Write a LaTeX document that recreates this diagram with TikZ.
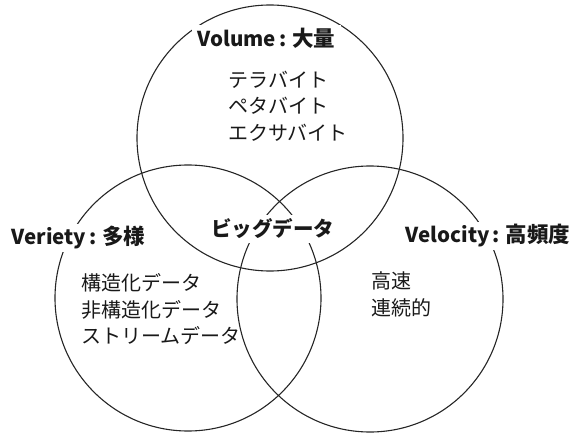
\documentclass[tikz,border=0pt]{standalone}
\usepackage{fontspec}
\newfontfamily\jp{Noto Sans CJK JP}
\newcommand{\lat}[1]{{\fontsize{20.5}{24}\selectfont #1}}
\newcommand{\cjkbig}[1]{{\fontsize{21.5}{24}\selectfont #1}}
\newcommand{\lsep}{\hspace{3pt}\lat{:}\hspace{6pt}}
\tikzset{
  vcircle/.style={circle, draw=black!85, line width=1.1pt, minimum size=266pt, inner sep=0pt},
  vlabel/.style={fill=white, inner xsep=6pt, inner ysep=3pt, font=\jp\bfseries\fontsize{20.5}{24}\selectfont, text=black!90},
  vbody/.style={inner sep=0pt, anchor=west, align=left, font=\jp\fontsize{20}{26.5}\selectfont, text=black!90},
  vcenter/.style={fill=white, inner xsep=3pt, inner ysep=4pt, font=\jp\bfseries\fontsize{20.5}{22}\selectfont, text=black!90}
}
\begin{document}
\begin{tikzpicture}[x=1pt, y=-1pt]
\useasboundingbox (0,0) rectangle (575,433);
\node[vcircle] (vol) at (270,138) {};
\node[vcircle] (ver) at (188,298) {};
\node[vcircle] (vel) at (370,299) {};
\node[vlabel] (volL) at (266.5,38) {\lat{Volume}\lsep\cjkbig{大量}};
\node[vlabel] (verL) at (78.5,238) {\lat{Veriety}\lsep\cjkbig{多様}};
\node[vlabel] (velL) at (488,236) {\lat{Velocity}\lsep\cjkbig{高頻度}};
\node[vcenter] (big) at (272.5,229) {ビッグデータ};
\node[vbody] (volB) at (228,106) {テラバイト\\ペタバイト\\エクサバイト};
\node[vbody] (verB) at (81,309.5) {構造化データ\\非構造化データ\\ストリームデータ};
\node[vbody] (velB) at (371,294.5) {高速\\連続的};
\end{tikzpicture}
\end{document}
